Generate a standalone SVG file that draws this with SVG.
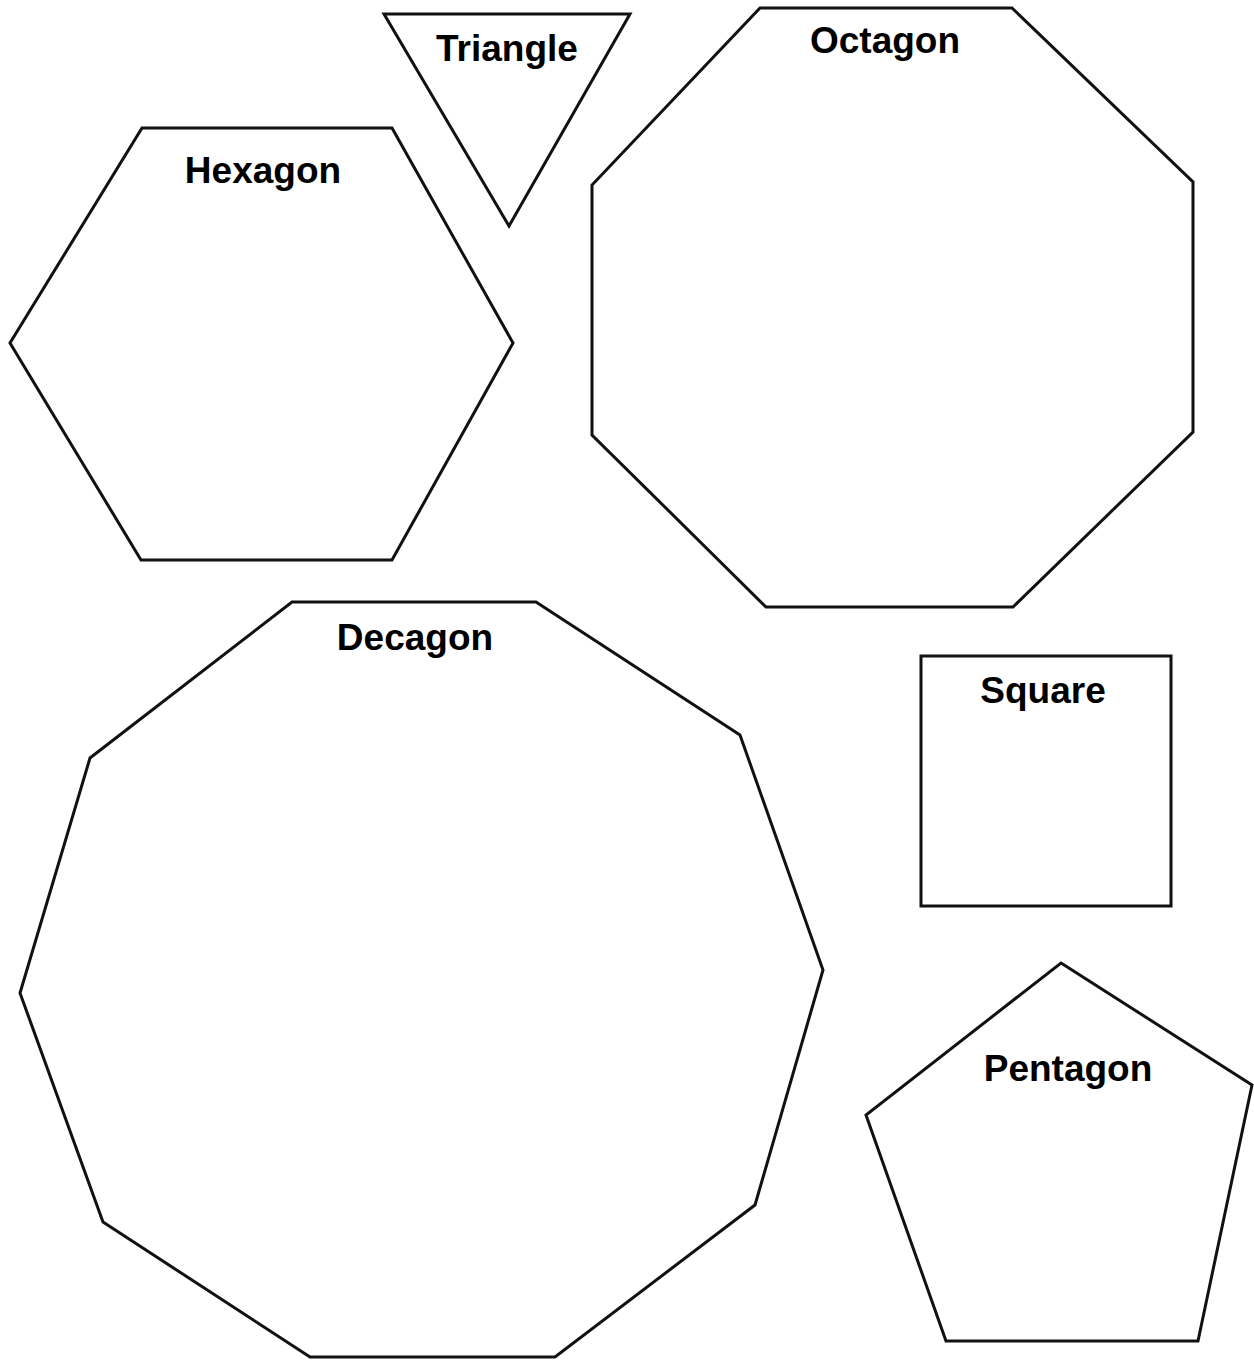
<svg xmlns="http://www.w3.org/2000/svg" width="1254" height="1360" viewBox="0 0 1254 1360">
<style>
.shape{fill:#fff;stroke:#111;stroke-width:3;stroke-linejoin:miter}
.lbl{font-family:"Liberation Sans",Arial,sans-serif;font-weight:bold;font-size:37px;fill:#000;text-anchor:middle}
</style>
<rect width="1254" height="1360" fill="#fff"/>
<g id="triangle">
<polygon class="shape" points="384,14 630,14 509,226"/>
<text class="lbl" x="507" y="61">Triangle</text>
</g>
<g id="hexagon">
<polygon class="shape" points="142,128 392,128 513,343 392,560 141,560 10,343"/>
<text class="lbl" x="263" y="183">Hexagon</text>
</g>
<g id="octagon">
<polygon class="shape" points="760,8 1012,8 1193,182 1193,432 1013,607 766,607 592,435 592,185"/>
<text class="lbl" x="885" y="53">Octagon</text>
</g>
<g id="decagon">
<polygon class="shape" points="292,602 536,602 740,735 823,970 755,1205 555,1357 310,1357 103,1222 20,993 90,758"/>
<text class="lbl" x="415" y="650">Decagon</text>
</g>
<g id="square">
<rect class="shape" x="921" y="656" width="250" height="250"/>
<text class="lbl" x="1043" y="703">Square</text>
</g>
<g id="pentagon">
<polygon class="shape" points="1061,963 1252,1085 1198,1341 946,1341 866,1115"/>
<text class="lbl" x="1068" y="1081">Pentagon</text>
</g>
<g id="connectors"/>
</svg>
